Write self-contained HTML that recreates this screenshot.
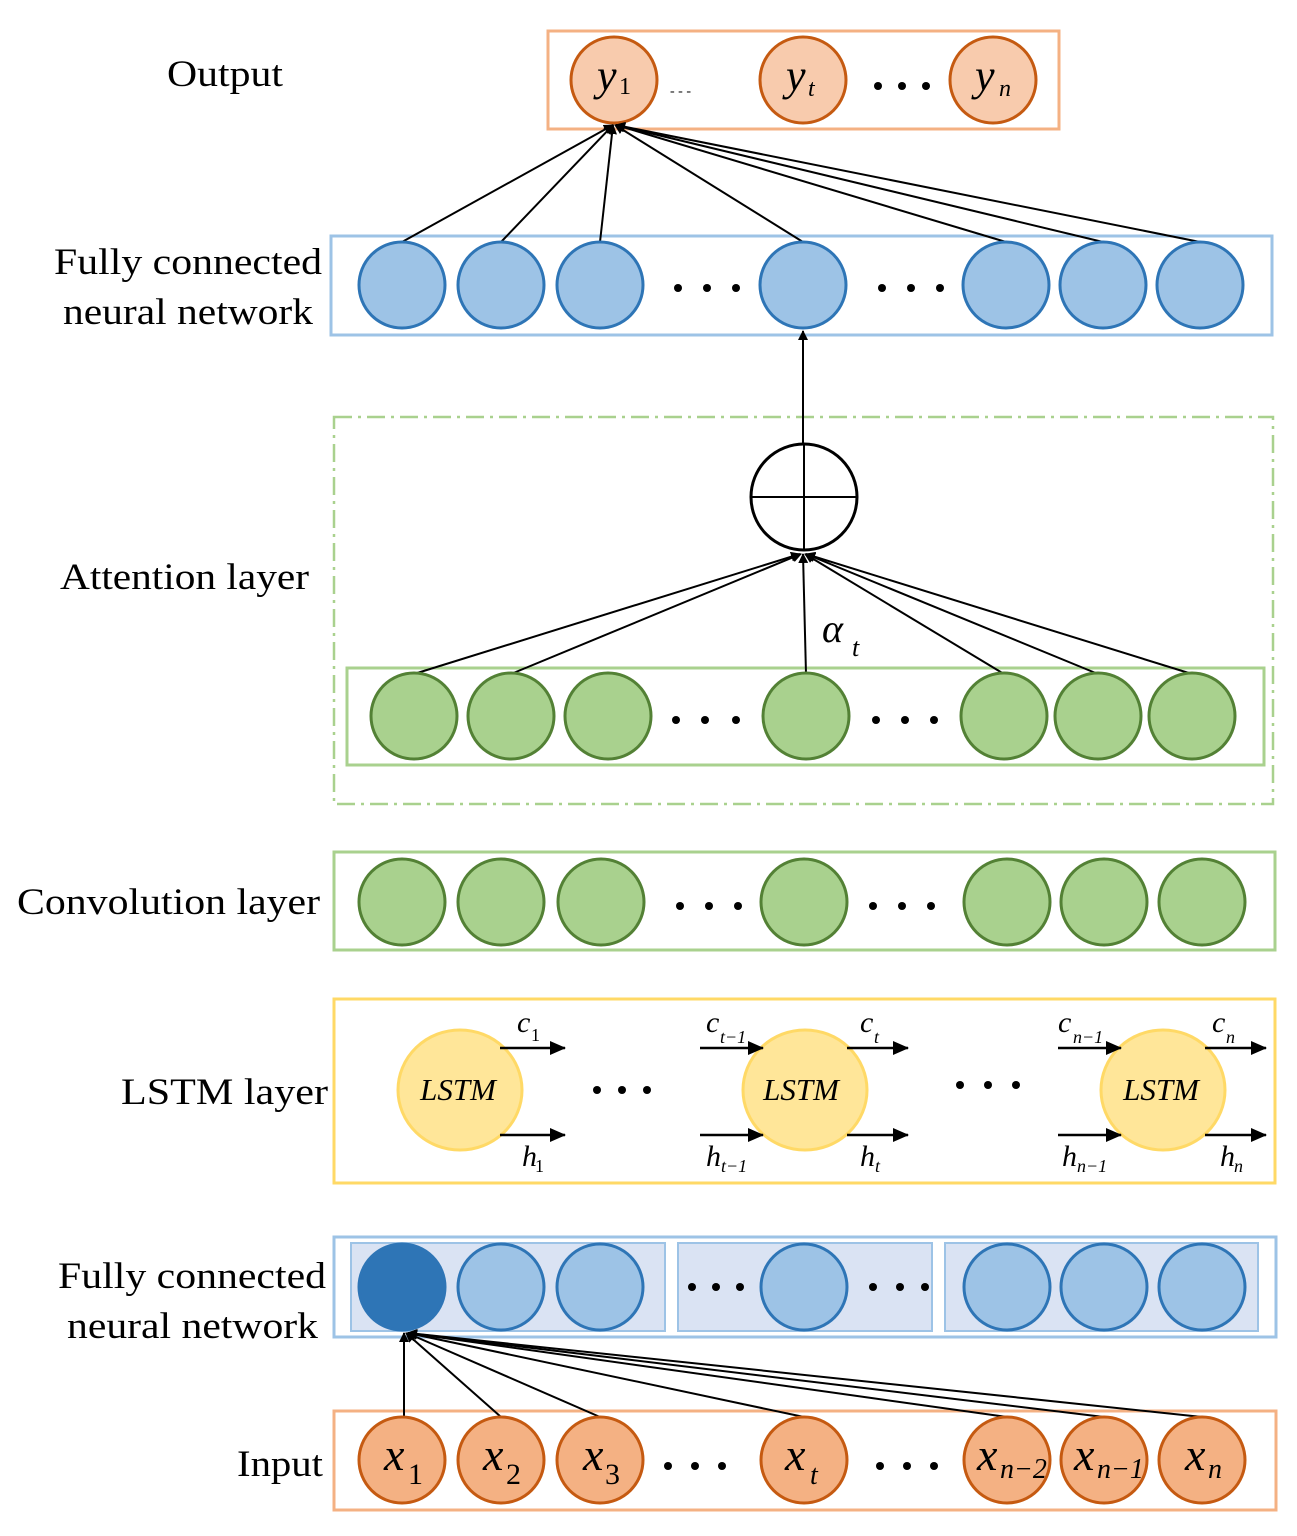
<!DOCTYPE html>
<html><head><meta charset="utf-8"><style>body{margin:0;background:#fff}svg{display:block}text{font-family:"Liberation Serif",serif}</style></head><body>
<svg width="1297" height="1536" viewBox="0 0 1297 1536">
<defs>
<marker id="a" markerWidth="10" markerHeight="10" refX="9" refY="5" orient="auto" markerUnits="userSpaceOnUse" viewBox="0 0 10 10"><path d="M0,0L10,5L0,10z" fill="#000"/></marker>
<marker id="b" markerWidth="16" markerHeight="14" refX="15" refY="7" orient="auto" markerUnits="userSpaceOnUse" viewBox="0 0 16 14"><path d="M0,0L16,7L0,14z" fill="#000"/></marker>
</defs>
<g font-size="37" fill="#000" lengthAdjust="spacingAndGlyphs">
<text x="167" y="86" textLength="116" lengthAdjust="spacingAndGlyphs">Output</text>
<text x="54" y="274" textLength="268" lengthAdjust="spacingAndGlyphs">Fully connected</text>
<text x="63" y="324" textLength="250" lengthAdjust="spacingAndGlyphs">neural network</text>
<text x="60" y="589" textLength="249" lengthAdjust="spacingAndGlyphs">Attention layer</text>
<text x="17" y="914" textLength="303" lengthAdjust="spacingAndGlyphs">Convolution layer</text>
<text x="121" y="1104" textLength="207" lengthAdjust="spacingAndGlyphs">LSTM layer</text>
<text x="58" y="1288" textLength="268" lengthAdjust="spacingAndGlyphs">Fully connected</text>
<text x="67" y="1338" textLength="251" lengthAdjust="spacingAndGlyphs">neural network</text>
<text x="237" y="1476" textLength="86" lengthAdjust="spacingAndGlyphs">Input</text>
</g>
<!-- Output -->
<rect x="548" y="31" width="511" height="98" fill="none" stroke="#f4b183" stroke-width="3"/>
<g fill="#f8cbad" stroke="#c55a11" stroke-width="3">
<circle cx="614" cy="80" r="43"/><circle cx="803" cy="80" r="43"/><circle cx="993" cy="80" r="43"/></g>
<g font-style="italic" font-size="44"><text x="597" y="90">y</text><text x="786" y="90">y</text><text x="975" y="90">y</text></g>
<g font-size="24"><text x="619" y="94">1</text></g>
<g font-style="italic" font-size="24"><text x="808" y="96">t</text><text x="999" y="96">n</text></g>
<text x="670" y="95" font-size="14">- - -</text>
<g fill="#000"><circle cx="878" cy="86" r="4"/><circle cx="902" cy="86" r="4"/><circle cx="926" cy="86" r="4"/></g>
<!-- FC top -->
<rect x="331" y="236" width="941" height="99" fill="none" stroke="#9dc3e6" stroke-width="3"/>
<g stroke="#000" stroke-width="2" marker-end="url(#a)">
<line x1="402" y1="242" x2="613" y2="125"/><line x1="501" y1="242" x2="613" y2="125"/><line x1="600" y1="242" x2="613" y2="125"/><line x1="803" y1="242" x2="615" y2="125"/><line x1="1006" y1="242" x2="616" y2="125"/><line x1="1103" y1="242" x2="616" y2="125"/><line x1="1200" y1="242" x2="616" y2="125"/>
</g>
<g fill="#9dc3e6" stroke="#2e75b6" stroke-width="3">
<circle cx="402" cy="285" r="43"/><circle cx="501" cy="285" r="43"/><circle cx="600" cy="285" r="43"/><circle cx="803" cy="285" r="43"/><circle cx="1006" cy="285" r="43"/><circle cx="1103" cy="285" r="43"/><circle cx="1200" cy="285" r="43"/></g>
<g fill="#000"><circle cx="678" cy="288" r="4"/><circle cx="707" cy="288" r="4"/><circle cx="736" cy="288" r="4"/><circle cx="882" cy="288" r="4"/><circle cx="911" cy="288" r="4"/><circle cx="940" cy="288" r="4"/></g>
<!-- Attention -->
<rect x="334" y="417" width="939" height="387" fill="none" stroke="#a9d18e" stroke-width="2.5" stroke-dasharray="18,6,3,6"/>
<line x1="803" y1="444" x2="803" y2="331" stroke="#000" stroke-width="2" marker-end="url(#a)"/>
<rect x="347" y="668" width="917" height="97" fill="none" stroke="#a9d18e" stroke-width="3"/>
<g stroke="#000" stroke-width="2" marker-end="url(#a)">
<line x1="414" y1="674" x2="800" y2="554"/><line x1="511" y1="674" x2="801" y2="554"/><line x1="806" y1="674" x2="803" y2="554"/><line x1="1004" y1="674" x2="805" y2="554"/><line x1="1098" y1="674" x2="806" y2="554"/><line x1="1192" y1="674" x2="806" y2="554"/>
</g>
<circle cx="804" cy="497" r="53" fill="#fff" stroke="#000" stroke-width="3"/>
<line x1="751" y1="497" x2="857" y2="497" stroke="#000" stroke-width="2"/><line x1="804" y1="444" x2="804" y2="550" stroke="#000" stroke-width="2"/>
<text x="822" y="642" font-style="italic" font-size="40">α</text><text x="852" y="656" font-style="italic" font-size="26">t</text>
<g fill="#a9d18e" stroke="#538135" stroke-width="3">
<circle cx="414" cy="716" r="43"/><circle cx="511" cy="716" r="43"/><circle cx="608" cy="716" r="43"/><circle cx="806" cy="716" r="43"/><circle cx="1004" cy="716" r="43"/><circle cx="1098" cy="716" r="43"/><circle cx="1192" cy="716" r="43"/></g>
<g fill="#000"><circle cx="676" cy="720" r="4"/><circle cx="705" cy="720" r="4"/><circle cx="736" cy="720" r="4"/><circle cx="876" cy="720" r="4"/><circle cx="905" cy="720" r="4"/><circle cx="934" cy="720" r="4"/></g>
<!-- Conv -->
<rect x="334" y="852" width="941" height="98" fill="none" stroke="#a9d18e" stroke-width="3"/>
<g fill="#a9d18e" stroke="#538135" stroke-width="3">
<circle cx="402" cy="902" r="43"/><circle cx="501" cy="902" r="43"/><circle cx="601" cy="902" r="43"/><circle cx="804" cy="902" r="43"/><circle cx="1007" cy="902" r="43"/><circle cx="1104" cy="902" r="43"/><circle cx="1202" cy="902" r="43"/></g>
<g fill="#000"><circle cx="680" cy="906" r="4"/><circle cx="709" cy="906" r="4"/><circle cx="738" cy="906" r="4"/><circle cx="873" cy="906" r="4"/><circle cx="902" cy="906" r="4"/><circle cx="931" cy="906" r="4"/></g>
<!-- LSTM -->
<rect x="334" y="999" width="941" height="184" fill="none" stroke="#ffd966" stroke-width="3"/>
<g fill="#ffe699" stroke="#ffd966" stroke-width="3">
<ellipse cx="460" cy="1090" rx="62" ry="60"/><ellipse cx="805" cy="1090" rx="62" ry="60"/><ellipse cx="1163" cy="1090" rx="62" ry="60"/></g>
<g font-style="italic" font-size="31" text-anchor="middle"><text x="458" y="1100">LSTM</text><text x="801" y="1100">LSTM</text><text x="1161" y="1100">LSTM</text></g>
<g stroke="#000" stroke-width="2.5" marker-end="url(#b)">
<line x1="500" y1="1048" x2="565" y2="1048"/><line x1="500" y1="1135" x2="565" y2="1135"/>
<line x1="700" y1="1048" x2="763" y2="1048"/><line x1="700" y1="1135" x2="763" y2="1135"/>
<line x1="847" y1="1048" x2="908" y2="1048"/><line x1="847" y1="1135" x2="908" y2="1135"/>
<line x1="1058" y1="1048" x2="1121" y2="1048"/><line x1="1058" y1="1135" x2="1121" y2="1135"/>
<line x1="1205" y1="1048" x2="1266" y2="1048"/><line x1="1205" y1="1135" x2="1266" y2="1135"/>
</g>
<g font-style="italic" font-size="30">
<text x="517" y="1032">c</text><text x="706" y="1032">c</text><text x="860" y="1032">c</text><text x="1058" y="1032">c</text><text x="1212" y="1032">c</text>
<text x="522" y="1166">h</text><text x="706" y="1166">h</text><text x="860" y="1166">h</text><text x="1062" y="1166">h</text><text x="1220" y="1166">h</text>
</g>
<g font-size="18">
<text x="531" y="1041">1</text><text x="535" y="1172">1</text>
</g>
<g font-style="italic" font-size="18">
<text x="720" y="1043">t−1</text><text x="874" y="1043">t</text><text x="1073" y="1043">n−1</text><text x="1226" y="1043">n</text>
<text x="721" y="1172">t−1</text><text x="875" y="1172">t</text><text x="1077" y="1172">n−1</text><text x="1234" y="1172">n</text>
</g>
<g fill="#000"><circle cx="597" cy="1090" r="4"/><circle cx="622" cy="1090" r="4"/><circle cx="647" cy="1090" r="4"/><circle cx="960" cy="1085" r="4"/><circle cx="988" cy="1085" r="4"/><circle cx="1016" cy="1085" r="4"/></g>
<!-- FC bottom -->
<rect x="334" y="1237" width="942" height="100" fill="none" stroke="#9dc3e6" stroke-width="3"/>
<g fill="#dae3f3" stroke="#9dc3e6" stroke-width="2">
<rect x="351" y="1243" width="314" height="88"/><rect x="678" y="1243" width="254" height="88"/><rect x="945" y="1243" width="313" height="88"/></g>
<g fill="#9dc3e6" stroke="#2e75b6" stroke-width="3">
<circle cx="402" cy="1287" r="43" fill="#2e75b6"/><circle cx="501" cy="1287" r="43"/><circle cx="600" cy="1287" r="43"/><circle cx="804" cy="1287" r="43"/><circle cx="1007" cy="1287" r="43"/><circle cx="1104" cy="1287" r="43"/><circle cx="1202" cy="1287" r="43"/></g>
<g fill="#000"><circle cx="692" cy="1287" r="4"/><circle cx="716" cy="1287" r="4"/><circle cx="740" cy="1287" r="4"/><circle cx="873" cy="1287" r="4"/><circle cx="900" cy="1287" r="4"/><circle cx="925" cy="1287" r="4"/></g>
<!-- Input -->
<rect x="334" y="1411" width="942" height="99" fill="none" stroke="#f4b183" stroke-width="3"/>
<g stroke="#000" stroke-width="2" marker-end="url(#a)">
<line x1="404" y1="1417" x2="404" y2="1333"/><line x1="501" y1="1417" x2="406" y2="1333"/><line x1="600" y1="1417" x2="407" y2="1333"/><line x1="804" y1="1417" x2="408" y2="1333"/><line x1="1007" y1="1417" x2="408" y2="1333"/><line x1="1104" y1="1417" x2="408" y2="1333"/><line x1="1202" y1="1417" x2="408" y2="1333"/>
</g>
<g fill="#f4b183" stroke="#c55a11" stroke-width="3">
<circle cx="402" cy="1460" r="43"/><circle cx="501" cy="1460" r="43"/><circle cx="600" cy="1460" r="43"/><circle cx="804" cy="1460" r="43"/><circle cx="1007" cy="1460" r="43"/><circle cx="1104" cy="1460" r="43"/><circle cx="1202" cy="1460" r="43"/></g>
<g font-style="italic" font-size="46"><text x="384" y="1470">x</text><text x="483" y="1470">x</text><text x="583" y="1470">x</text><text x="785" y="1470">x</text><text x="977" y="1470">x</text><text x="1074" y="1470">x</text><text x="1185" y="1470">x</text></g>
<g font-size="30"><text x="408" y="1484">1</text><text x="506" y="1484">2</text><text x="605" y="1484">3</text></g>
<g font-style="italic" font-size="28"><text x="810" y="1484">t</text><text x="1000" y="1478">n−2</text><text x="1097" y="1478">n−1</text><text x="1208" y="1478">n</text></g>
<g fill="#000"><circle cx="668" cy="1466" r="4"/><circle cx="695" cy="1466" r="4"/><circle cx="722" cy="1466" r="4"/><circle cx="880" cy="1466" r="4"/><circle cx="907" cy="1466" r="4"/><circle cx="934" cy="1466" r="4"/></g>
</svg>
</body></html>
